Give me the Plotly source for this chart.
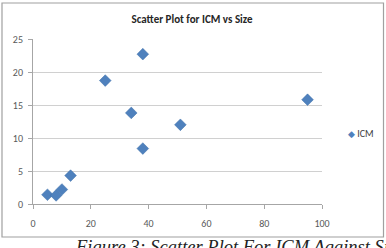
import plotly.graph_objects as go

size = [5, 8, 10, 13, 25, 34, 38, 38, 51, 95]
icm = [1.4, 1.3, 2.2, 4.3, 18.7, 13.8, 22.7, 8.4, 12.0, 15.8]
x_ticks = [0, 20, 40, 60, 80, 100]
y_ticks = [0, 5, 10, 15, 20, 25]
series_name = "ICM"

W, H = 386, 248
L, R, T, B = 33, 64, 39, 44
pw, ph = W - L - R, H - T - B

def px(xp):
    return (xp - L) / pw

def py(yp):
    return (H - B - yp) / ph

fig = go.Figure()
fig.add_trace(go.Scatter(
    x=size, y=icm, mode="markers", name=series_name, showlegend=False,
    marker=dict(symbol="diamond", size=9, color="#4F81BD",
                line=dict(width=0.5, color="#3C6EA8")),
))

axis_font = dict(family="Carlito, Liberation Sans, sans-serif", size=10, color="#595959")
fig.update_layout(
    width=W, height=H,
    margin=dict(l=L, r=R, t=T, b=B, pad=0, autoexpand=False),
    paper_bgcolor="white", plot_bgcolor="white",
    title=dict(text="<b>Scatter Plot for ICM vs Size</b>", x=192 / W, xanchor="center",
               y=1 - 19 / H, yanchor="middle",
               font=dict(family="Carlito, Liberation Sans, sans-serif", size=11, color="#262626")),
    showlegend=False,
    xaxis=dict(range=[0, 100], tickvals=x_ticks, showgrid=False, zeroline=False,
               showline=True, linecolor="#A6A6A6", linewidth=1,
               ticks="outside", ticklen=4, tickcolor="#A6A6A6", tickfont=axis_font,
               ticklabelstandoff=6),
    yaxis=dict(range=[0, 25], tickvals=y_ticks, showgrid=True, gridcolor="#D0D0D0",
               gridwidth=1, zeroline=False, showline=True, linecolor="#A6A6A6",
               linewidth=1, ticks="outside", ticklen=4, tickcolor="#A6A6A6",
               tickfont=axis_font, ticklabelstandoff=3),
    shapes=[dict(type="rect", xref="paper", yref="paper",
                 x0=px(2), x1=px(383.5), y0=py(237), y1=py(3),
                 line=dict(color="#A0A0A0", width=1.2), fillcolor="rgba(0,0,0,0)", layer="below")],
    annotations=[
        dict(text="<span style='color:#4F81BD;font-size:9px'>◆</span> " + series_name,
             xref="paper", yref="paper", x=px(346), y=py(133),
             xanchor="left", yanchor="middle", showarrow=False,
             font=dict(family="Carlito, Liberation Sans, sans-serif", size=10, color="#404040")),
        dict(text="<i>Figure 3: Scatter Plot For ICM Against Size</i>",
             xref="paper", yref="paper", x=px(73), y=py(235),
             xanchor="left", yanchor="top", showarrow=False,
             font=dict(family="Liberation Serif, Times New Roman, serif", size=18.5, color="#222")),
    ],
)

fig.write_html("out.html")
